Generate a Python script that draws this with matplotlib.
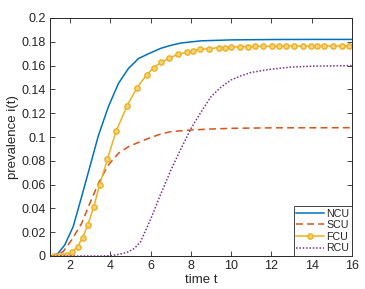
import matplotlib
matplotlib.use("Agg")
import matplotlib.pyplot as plt

plt.rcParams['font.family'] = ['Liberation Sans', 'DejaVu Sans']

# ---- data ----
ncu_t = [1.0, 1.2, 1.4, 1.73, 2.15, 2.57, 2.98, 3.4, 3.9, 4.4, 4.9, 5.4, 5.9,
         6.5, 7.0, 7.5, 8.5, 10.0, 12.0, 14.0, 16.0]
ncu_i = [0.0, 0.0003, 0.0022, 0.0092, 0.0246, 0.0498, 0.075, 0.101, 0.1255,
         0.145, 0.1577, 0.166, 0.170, 0.1745, 0.177, 0.179, 0.1808, 0.1816,
         0.1819, 0.182, 0.182]

scu_t = [1.0, 1.3, 1.65, 2.07, 2.57, 2.98, 3.4, 3.9, 4.4, 4.9, 5.4, 5.9, 6.5,
         7.0, 8.0, 9.0, 10.0, 12.0, 16.0]
scu_i = [0.0, 0.0005, 0.0036, 0.0134, 0.0274, 0.0443, 0.061, 0.0765, 0.0863,
         0.0919, 0.0955, 0.0989, 0.1025, 0.1045, 0.1059, 0.1067, 0.1073,
         0.1077, 0.1078]

fcu_t = [1.2, 1.42, 1.63, 1.85, 2.1, 2.37, 2.62, 2.88, 3.17, 3.47, 3.85, 4.28,
         4.83, 5.32, 5.8, 6.15, 6.52, 6.92, 7.38, 7.78, 8.1, 8.45, 8.92, 9.37,
         9.67, 10.0, 10.43, 10.83, 11.2, 11.6, 12.03, 12.37, 12.73, 13.12,
         13.55, 13.95, 14.28, 14.63, 15.07, 15.48, 15.85, 16.0]
fcu_i = [0.0, 0.0, 0.0, 0.0006, 0.0034, 0.0078, 0.0154, 0.0263, 0.041, 0.060,
         0.0813, 0.1048, 0.1263, 0.1415, 0.1521, 0.1583, 0.1628, 0.1661,
         0.1697, 0.1711, 0.1725, 0.1737, 0.1742, 0.1751, 0.1751, 0.1756,
         0.1759, 0.1760, 0.1761, 0.1762, 0.1763, 0.1763, 0.1764, 0.1764,
         0.1764, 0.1765, 0.1765, 0.1765, 0.1765, 0.1765, 0.1765, 0.1765]

rcu_t = [1.0, 3.5, 4.0, 4.23, 4.6, 4.9, 5.2, 5.5, 6.0, 6.5, 7.0, 7.5, 8.0, 8.5,
         9.0, 9.5, 10.0, 10.5, 11.0, 11.5, 12.0, 13.0, 14.0, 16.0]
rcu_i = [0.0, 0.0, 0.0003, 0.0008, 0.002, 0.0036, 0.0065, 0.012, 0.031, 0.052,
         0.072, 0.090, 0.107, 0.121, 0.134, 0.142, 0.148, 0.1515, 0.1543,
         0.1557, 0.157, 0.1588, 0.1595, 0.160]

labels = ['NCU', 'SCU', 'FCU', 'RCU']
x_ticks = [2, 4, 6, 8, 10, 12, 14, 16]
y_ticks = [0, 0.02, 0.04, 0.06, 0.08, 0.1, 0.12, 0.14, 0.16, 0.18, 0.2]
y_ticklabels = ['0', '0.02', '0.04', '0.06', '0.08', '0.1', '0.12', '0.14',
                '0.16', '0.18', '0.2']

# ---- figure ----
fig = plt.figure(figsize=(3.65, 2.89), dpi=100)
ax = fig.add_axes([50/365, 33/289, 302/365, 238/289])

lw = 1.1
ax.plot(ncu_t, ncu_i, color='#0072BD', lw=lw, label=labels[0])
ax.plot(scu_t, scu_i, color='#D95319', lw=lw, dashes=(4.5, 2.8),
        label=labels[1])
ax.plot(fcu_t, fcu_i, color='#EDB120', lw=lw, marker='o', markersize=3.8,
        markerfacecolor='#F5D27A', markeredgewidth=1.0,
        markevery=list(range(len(fcu_t) - 1)), label=labels[2])
ax.plot(rcu_t, rcu_i, color='#7E2F8E', lw=lw, dashes=(1, 1.2),
        label=labels[3])

ax.set_xlim(1, 16)
ax.set_ylim(0, 0.2)
ax.set_xticks(x_ticks)
ax.set_yticks(y_ticks)
ax.set_yticklabels(y_ticklabels)

for s in ax.spines.values():
    s.set_color('#262626')
    s.set_linewidth(0.7)
ax.tick_params(direction='in', length=3.5, width=0.6, colors='#262626',
               labelsize=9, top=True, right=True, pad=3)
for t in ax.get_xticklabels() + ax.get_yticklabels():
    t.set_color('#262626')

ax.set_xlabel('time t', fontsize=9.5, color='#262626', labelpad=1)
ax.set_ylabel('prevalence i(t)', fontsize=9.5, color='#262626', labelpad=2)

leg = ax.legend(loc='lower right', borderaxespad=0, fontsize=7.7,
                handlelength=2.6, handletextpad=0.2, labelspacing=0.15,
                borderpad=0.25, fancybox=False, framealpha=1)
leg.get_frame().set_edgecolor('#262626')
leg.get_frame().set_linewidth(0.6)
for t in leg.get_texts():
    t.set_color('#262626')

fig.savefig('out.png', dpi=100)
